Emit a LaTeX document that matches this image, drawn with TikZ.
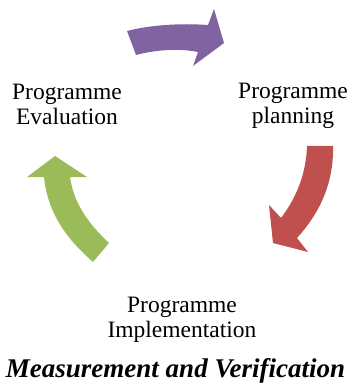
\documentclass[tikz,border=0pt]{standalone}
\usepackage{fontspec}
\setmainfont{Liberation Serif}
\usepackage{tikz}
\usetikzlibrary{positioning}
\definecolor{cycpurple}{HTML}{8064A2}
\definecolor{cycred}{HTML}{C0504D}
\definecolor{cycgreen}{HTML}{9BBB59}

\begin{document}
\begin{tikzpicture}[x=1pt,y=-1pt,lbl/.style={align=center,inner sep=0pt,font=\fontsize{23.5}{25}\selectfont},title/.style={inner sep=0pt,font=\fontsize{27}{29}\selectfont\bfseries\itshape},bigarr/.style={draw=none}]
\useasboundingbox (0,0) rectangle (351,387);
% curved block arrows
\fill[cycpurple,bigarr] (127,31) .. controls (150,25) and (180,23) .. (208,25) -- (214,9) -- (224,43) -- (193,66) -- (198,52) .. controls (178,48) and (155,50) .. (136,55) -- cycle;
\fill[cycred,bigarr] (307,146) -- (333,146) .. controls (334,185) and (318,215) .. (297,238) -- (308,252) -- (273,243) -- (269,205) -- (281,218) .. controls (296,198) and (306,175) .. (307,146) -- cycle;
\fill[cycgreen,bigarr] (109,243) .. controls (90,225) and (74,205) .. (70,177) -- (87,177) -- (55,156) -- (27,177) -- (44,177) .. controls (48,215) and (68,240) .. (93,262) -- cycle;
% stages
\node[lbl] (plan) at (293,105.7) {Programme\\planning};
\node[lbl] (impl) at (182,319.5) {Programme\\Implementation};
\node[lbl] (eval) at (67,104.7) {Programme\\Evaluation};
\node[title] (mv) at (175.5,371) {Measurement and Verification};
\end{tikzpicture}
\end{document}
